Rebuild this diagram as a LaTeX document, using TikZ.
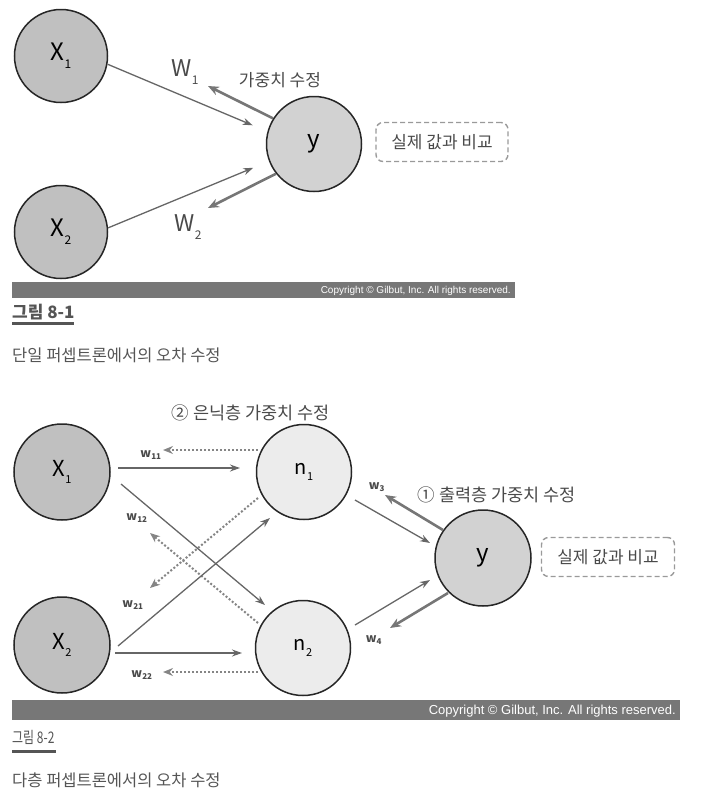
\documentclass[tikz,border=0pt]{standalone}
\usepackage{fontspec}
\setmainfont{Noto Sans CJK KR}
\newfontfamily\krlight{Noto Sans CJK KR}
\newfontfamily\arialf{Liberation Sans}
\usetikzlibrary{arrows.meta,calc}
\definecolor{darkfill}{HTML}{C0C0C0}
\definecolor{midfill}{HTML}{D2D2D2}
\definecolor{lightfill}{HTML}{ECECEC}
\definecolor{linegray}{HTML}{666666}
\definecolor{backgray}{HTML}{767676}
\definecolor{dotgray}{HTML}{858585}
\definecolor{bargray}{HTML}{777777}
\definecolor{capgray}{HTML}{555555}
\definecolor{labgray}{HTML}{4A4A4A}
\definecolor{boxgray}{HTML}{9A9A9A}
\begin{document}
\begin{tikzpicture}[x=1pt,y=-1pt,
  neuron/.style={circle, draw=black!85, line width=1.5pt, inner sep=0pt},
  darkn/.style={neuron, fill=darkfill},
  midn/.style={neuron, fill=midfill},
  lightn/.style={neuron, fill=lightfill},
  fwd/.style={draw=linegray, line width=1.3pt, -{Stealth[length=10pt,width=7pt]}},
  backarr/.style={draw=backgray, line width=2.6pt, -{Stealth[length=11pt,width=9pt]}},
  dotback/.style={draw=dotgray, line width=2pt, dotted, -{Stealth[length=10pt,width=8pt]}},
  wlab/.style={font=\fontsize{12}{13}\selectfont\bfseries, text=labgray, inner sep=0pt},
  krlab/.style={font=\krlight\fontsize{17}{19}\selectfont, text=labgray, inner sep=0pt},
  dashbox/.style={draw=boxgray, dashed, dash pattern=on 5pt off 3pt, line width=1.4pt, rounded corners=7pt, font=\krlight\fontsize{17}{19}\selectfont, text=labgray},
  copyr/.style={text=white, inner sep=0pt, anchor=east},
  caption/.style={anchor=west, inner sep=0pt, text=capgray},
]
\useasboundingbox (0,0) rectangle (728,798);

% ---------------- Figure 8-1 ----------------
\node[darkn, minimum size=93pt] (x1) at (61,56) {\fontsize{24}{26}\selectfont X\raisebox{-0.6ex}{\fontsize{12}{12}\selectfont 1}};
\node[darkn, minimum size=93pt] (x2) at (61,232) {\fontsize{24}{26}\selectfont X\raisebox{-0.6ex}{\fontsize{12}{12}\selectfont 2}};
\node[midn, minimum size=95pt] (y) at (314,144) {\fontsize{24}{26}\selectfont y};

\draw[fwd, shorten >=16pt] (x1.-10) -- (y.165);
\draw[fwd, shorten >=17pt] (x2.5) -- (y.201);
\coordinate (t1) at (208,86);
\coordinate (t2) at (208,208);
\draw[backarr] (y.148) -- (t1);
\draw[backarr] (y.218) -- (t2);

\node[inner sep=0pt, text=labgray] (w1) at (185,72) {\fontsize{23}{25}\selectfont W\raisebox{-0.6ex}{\fontsize{12}{12}\selectfont 1}};
\node[inner sep=0pt, text=labgray] (w2) at (188,227) {\fontsize{23}{25}\selectfont W\raisebox{-0.6ex}{\fontsize{12}{12}\selectfont 2}};
\node[krlab] (mod1) at (280,80) {가중치 수정};
\node[dashbox, minimum width=132pt, minimum height=39pt] (cmp1) at (442,142) {실제 값과 비교};

\fill[bargray] (12,282) rectangle (515,298);
\node[copyr, font=\arialf\fontsize{10}{11}\selectfont] (cr1) at (511,291) {Copyright © Gilbut, Inc. All rights reserved.};
\node[caption, font=\bfseries\fontsize{17}{19}\selectfont] (cap1) at (12,312) {그림 8-1};
\fill[capgray] (12,322) rectangle (74,325);
\node[caption, font=\fontsize{16.5}{18}\selectfont] (desc1) at (12,355) {단일 퍼셉트론에서의 오차 수정};

% ---------------- Figure 8-2 ----------------
\node[darkn, minimum size=96pt] (X1) at (62,472) {\fontsize{22}{24}\selectfont X\raisebox{-0.6ex}{\fontsize{11}{11}\selectfont 1}};
\node[darkn, minimum size=96pt] (X2) at (62,645) {\fontsize{22}{24}\selectfont X\raisebox{-0.6ex}{\fontsize{11}{11}\selectfont 2}};
\node[lightn, minimum size=95pt] (n1) at (304,472) {\fontsize{20}{22}\selectfont n\raisebox{-0.6ex}{\fontsize{11}{11}\selectfont 1}};
\node[lightn, minimum size=95pt] (n2) at (303,648) {\fontsize{20}{22}\selectfont n\raisebox{-0.6ex}{\fontsize{11}{11}\selectfont 2}};
\node[midn, minimum size=96pt] (Y) at (483,558) {\fontsize{24}{26}\selectfont y};

\draw[fwd] ($(X1)+(56,-4)$) -- ($(n1)+(-64,-4)$);
\draw[dotback] ($(n1)+(-46,-22)$) -- ($(X1)+(101,-22)$);
\draw[fwd] ($(X1)+(59,12)$) -- ($(n2)+(-38,-43)$);
\draw[dotback] ($(n2)+(-45,-25)$) -- ($(X1)+(88,61)$);
\draw[fwd] ($(X2)+(56,1)$) -- ($(n1)+(-34,46)$);
\draw[dotback] ($(n1)+(-46,26)$) -- ($(X2)+(88,-57)$);
\draw[fwd] ($(X2)+(53,8)$) -- ($(n2)+(-61,5)$);
\draw[dotback] ($(n2)+(-45,24)$) -- ($(X2)+(101,27)$);

\draw[fwd] ($(n1)+(51,28)$) -- ($(Y)+(-53,-15)$);
\draw[fwd] ($(n2)+(52,-23)$) -- ($(Y)+(-53,22)$);
\coordinate (t3) at (385,495);
\coordinate (t4) at (390,628);
\draw[backarr] ($(Y)+(-40,-28)$) -- (t3);
\draw[backarr] ($(Y)+(-35,35)$) -- (t4);

\node[wlab] (w11) at (151,455) {w\textsubscript{11}};
\node[wlab] (w12) at (137,518) {w\textsubscript{12}};
\node[wlab] (w21) at (133,605) {w\textsubscript{21}};
\node[wlab] (w22) at (142,675) {w\textsubscript{22}};
\node[wlab] (w3) at (377,487) {w\textsubscript{3}};
\node[wlab] (w4) at (374,640) {w\textsubscript{4}};

\node[krlab, font=\krlight\fontsize{17.5}{19}\selectfont] (hid) at (251,413) {② 은닉층 가중치 수정};
\node[krlab, font=\krlight\fontsize{17.5}{19}\selectfont] (out) at (497,495) {① 출력층 가중치 수정};
\node[dashbox, minimum width=133pt, minimum height=39pt] (cmp2) at (608,557) {실제 값과 비교};

\fill[bargray] (12,700) rectangle (680,720);
\node[copyr, font=\arialf\fontsize{13}{14}\selectfont] (cr2) at (676,711) {Copyright © Gilbut, Inc. All rights reserved.};
\node[caption, font=\fontsize{16}{18}\selectfont] (cap2) at (12,737) {\scalebox{0.75}[1]{그림 8-2}};
\fill[capgray] (12,750) rectangle (56,753);
\node[caption, font=\fontsize{16.5}{18}\selectfont] (desc2) at (12,780) {다층 퍼셉트론에서의 오차 수정};
\end{tikzpicture}
\end{document}
